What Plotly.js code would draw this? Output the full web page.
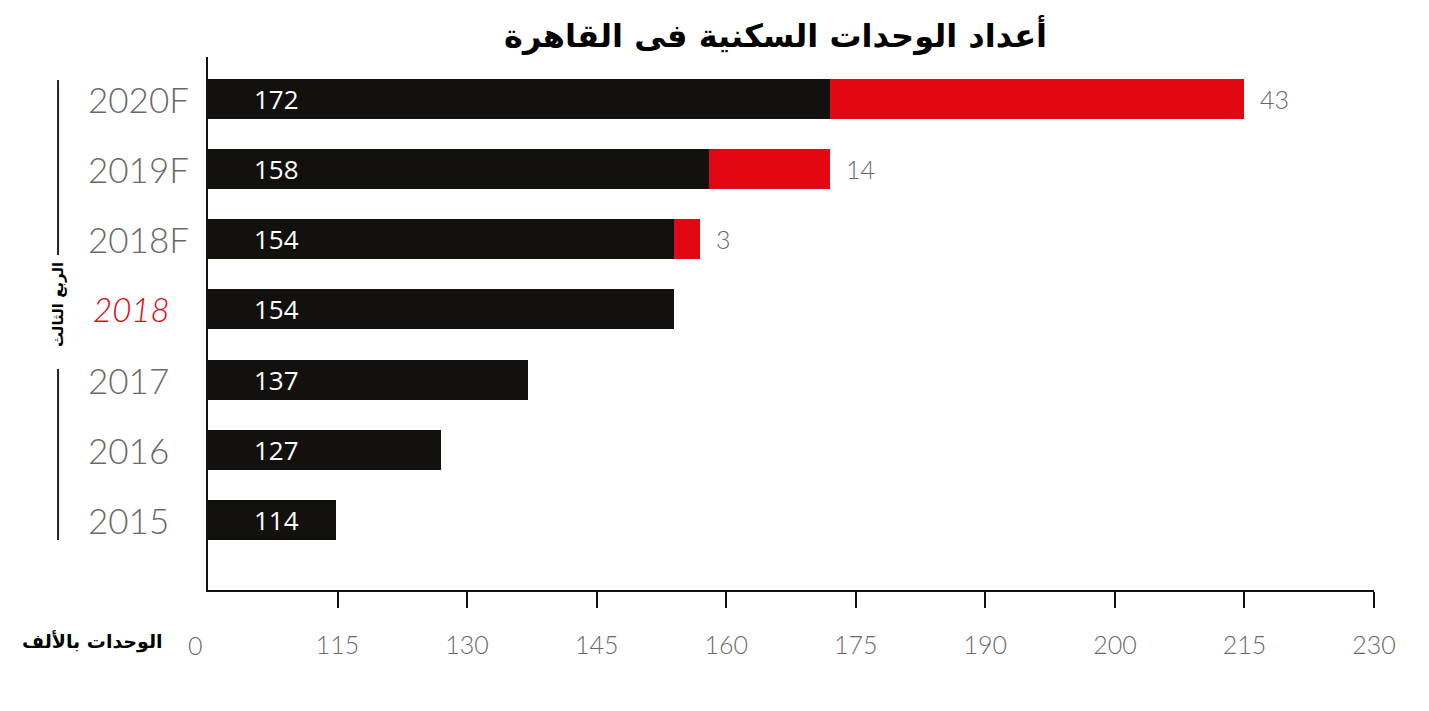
<!DOCTYPE html>
<html>
<head>
<meta charset="utf-8">
<script src="https://cdn.plot.ly/plotly-3.0.1.min.js"></script>
<style>
  html, body { margin: 0; padding: 0; background: #ffffff; }
  #chart { width: 1429px; height: 711px; }
</style>
</head>
<body>
<div id="chart"></div>
<script>
  "use strict";

  // categories bottom -> top
  var YEARS = ["2015", "2016", "2017", "2018", "2018F", "2019F", "2020F"];
  var BASE_UNITS = [114, 127, 137, 154, 154, 158, 172];
  var ADDED_UNITS = [null, null, null, null, 3, 14, 43];
  var AXIS_STOPS = [0, 115, 130, 145, 160, 175, 190, 200, 215, 230];

  var TITLE = "أعداد الوحدات السكنية فى القاهرة";
  var UNIT_NOTE = "الوحدات بالألف";
  var QUARTER_NOTE = "الربع الثالث";
  var HIGHLIGHT_YEAR = "2018";

  var BLACK = "#13110d";
  var RED = "#e30613";
  var GREY = "#6a6a6a";
  var LIGHT_FONT = 'Lato, "Open Sans", sans-serif';
  var ARABIC_FONT = '"DejaVu Sans", sans-serif';

  // the printed axis is evenly spaced between uneven stops, so map
  // each value onto the stop index (piecewise linear)
  function toAxis(v) {
    for (var i = 0; i < AXIS_STOPS.length - 1; i++) {
      if (v <= AXIS_STOPS[i + 1]) {
        return i + (v - AXIS_STOPS[i]) / (AXIS_STOPS[i + 1] - AXIS_STOPS[i]);
      }
    }
    return AXIS_STOPS.length - 1;
  }

  var baseTrace = {
    type: "bar",
    orientation: "h",
    y: YEARS,
    x: BASE_UNITS.map(toAxis),
    base: 0,
    width: 0.57,
    marker: { color: BLACK, line: { width: 0 } },
    hoverinfo: "skip",
  };

  var addedTrace = {
    type: "bar",
    orientation: "h",
    y: YEARS,
    x: ADDED_UNITS.map(function (v, i) {
      return v === null ? null : toAxis(BASE_UNITS[i] + v) - toAxis(BASE_UNITS[i]);
    }),
    base: BASE_UNITS.map(toAxis),
    width: 0.57,
    marker: { color: RED, line: { width: 0 } },
    hoverinfo: "skip",
  };

  var annotations = [];

  // year names look numeric, so annotations use the category index
  YEARS.forEach(function (year, i) {
    var isHighlight = year === HIGHLIGHT_YEAR;
    annotations.push({
      xref: "paper", yref: "y",
      x: isHighlight ? -0.1 : -0.1046, y: i,
      xanchor: "left", yanchor: "middle",
      text: isHighlight ? "<i>" + year + "</i>" : year,
      showarrow: false,
      font: {
        family: LIGHT_FONT,
        size: isHighlight ? 33 : 35,
        weight: 300,
        color: isHighlight ? RED : GREY,
      },
    });

    annotations.push({
      xref: "x", yref: "y",
      x: 0.53, y: i,
      xanchor: "center", yanchor: "middle",
      text: String(BASE_UNITS[i]),
      showarrow: false,
      font: { family: '"Open Sans", sans-serif', size: 26, color: "#ffffff" },
    });

    if (ADDED_UNITS[i] !== null) {
      annotations.push({
        xref: "x", yref: "y",
        x: toAxis(BASE_UNITS[i] + ADDED_UNITS[i]), y: i,
        xanchor: "left", yanchor: "middle", xshift: 14,
        text: String(ADDED_UNITS[i]),
        showarrow: false,
        font: { family: LIGHT_FONT, size: 25, weight: 300, color: GREY },
      });
    }
  });

  // "0" sits left of the axis corner, no tick under it
  annotations.push({
    xref: "paper", yref: "paper",
    x: -0.011, y: -0.103,
    xanchor: "center", yanchor: "middle",
    text: String(AXIS_STOPS[0]),
    showarrow: false,
    font: { family: LIGHT_FONT, size: 25, weight: 300, color: GREY },
  });

  annotations.push({
    xref: "paper", yref: "paper",
    x: -0.0369, y: -0.096,
    xanchor: "right", yanchor: "middle",
    text: "<b>" + UNIT_NOTE + "</b>",
    showarrow: false,
    font: { family: ARABIC_FONT, size: 19, color: "#000000" },
  });

  annotations.push({
    xref: "paper", yref: "paper",
    x: -0.1286, y: 0.5347,
    xanchor: "center", yanchor: "middle",
    textangle: -90,
    text: "<b>" + QUARTER_NOTE + "</b>",
    showarrow: false,
    font: { family: ARABIC_FONT, size: 15, color: "#000000" },
  });

  annotations.push({
    xref: "paper", yref: "paper",
    x: 0.487, y: 1.041,
    xanchor: "center", yanchor: "middle",
    text: "<b>" + TITLE + "</b>",
    showarrow: false,
    font: { family: ARABIC_FONT, size: 32, color: "#000000" },
  });

  var shapes = [
    { type: "line", xref: "paper", yref: "paper", x0: -0.1286, x1: -0.1286, y0: 0.6285, y1: 0.9568,
      line: { color: "#222222", width: 2 } },
    { type: "line", xref: "paper", yref: "paper", x0: -0.1286, x1: -0.1286, y0: 0.0938, y1: 0.4146,
      line: { color: "#222222", width: 2 } },
  ];

  var layout = {
    width: 1429,
    height: 711,
    paper_bgcolor: "#ffffff",
    plot_bgcolor: "#ffffff",
    margin: { t: 57, r: 55, b: 121, l: 208, pad: 0 },
    showlegend: false,
    barmode: "overlay",
    bargap: 0,
    xaxis: {
      range: [0, AXIS_STOPS.length - 1],
      tickmode: "array",
      tickvals: AXIS_STOPS.slice(1).map(function (v, i) { return i + 1; }),
      ticktext: AXIS_STOPS.slice(1).map(String),
      ticks: "outside",
      ticklen: 16,
      tickwidth: 2,
      tickcolor: "#111111",
      ticklabelstandoff: 16,
      tickfont: { family: LIGHT_FONT, size: 25, weight: 300, color: GREY },
      showgrid: false,
      zeroline: false,
      showline: true,
      linecolor: "#111111",
      linewidth: 2,
      fixedrange: true,
    },
    yaxis: {
      type: "category",
      categoryorder: "array",
      categoryarray: YEARS,
      range: [-1, 6.6],
      showticklabels: false,
      ticks: "",
      showgrid: false,
      zeroline: false,
      showline: true,
      linecolor: "#111111",
      linewidth: 2,
      fixedrange: true,
    },
    annotations: annotations,
    shapes: shapes,
  };

  Plotly.newPlot("chart", [baseTrace, addedTrace], layout, {
    displayModeBar: false,
    staticPlot: true,
  });
</script>
</body>
</html>
